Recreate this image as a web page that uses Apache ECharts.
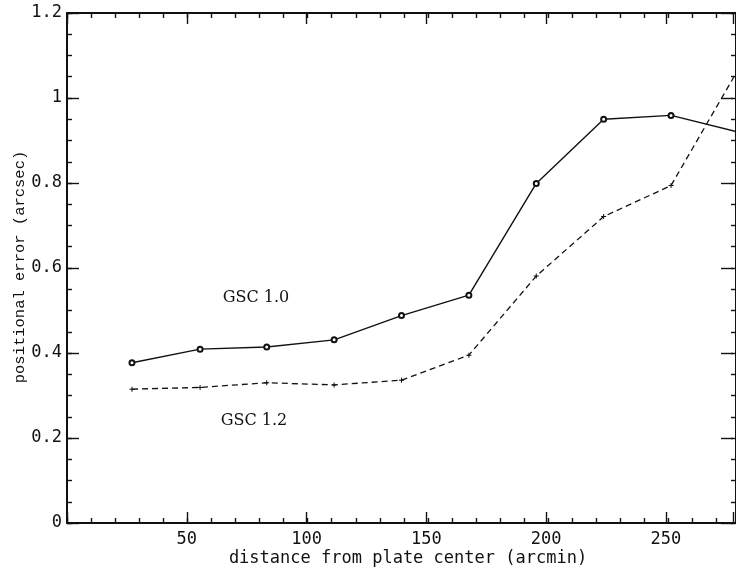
<html>
<head>
    <meta charset="utf-8">
    <title>GSC positional error</title>
    <script src="https://cdn.jsdelivr.net/npm/echarts@6.0.0/dist/echarts.min.js"></script>
</head>
<body style="margin:0;background:#fff;">
<div id="main" style="width: 736px;height:570px;"></div>
<script>
    // data
    var distance = [27, 55.3, 83, 111, 139, 167, 195, 223, 251, 279];
    var gsc10 = [0.377, 0.409, 0.414, 0.431, 0.488, 0.536, 0.799, 0.950, 0.959, 0.920];
    var gsc12 = [0.315, 0.319, 0.330, 0.325, 0.336, 0.395, 0.581, 0.721, 0.794, 1.068];
    var xTickLabels = [50, 100, 150, 200, 250];
    var yTickLabels = [0, 0.2, 0.4, 0.6, 0.8, 1, 1.2];

    var ink = '#111';
    var mono = 'DejaVu Sans Mono';

    function pairs(xs, ys) {
        var out = [];
        for (var i = 0; i < xs.length; i++) out.push([xs[i], ys[i]]);
        return out;
    }

    // minor ticks (short) on grid 0, major ticks (long) + labels on grid 1
    function xAx(grid, pos, interval, len, labels, line) {
        return {
            type: 'value', gridIndex: grid, position: pos, min: 0, max: 278, interval: interval,
            axisLine: {show: line, onZero: false, lineStyle: {color: ink, width: 2}},
            axisTick: {show: true, inside: true, length: len, lineStyle: {color: ink, width: 1.4}},
            axisLabel: {
                show: labels, margin: 8, color: ink, fontFamily: mono, fontSize: 17,
                formatter: function (v) { return xTickLabels.indexOf(v) >= 0 ? String(v) : ''; }
            },
            splitLine: {show: false}
        };
    }
    function yAx(grid, pos, interval, len, labels, line) {
        return {
            type: 'value', gridIndex: grid, position: pos, min: 0, max: 1.2, interval: interval,
            axisLine: {show: line, onZero: false, lineStyle: {color: ink, width: 2}},
            axisTick: {show: true, inside: true, length: len, lineStyle: {color: ink, width: 1.4}},
            axisLabel: {
                show: labels, margin: 5, color: ink, fontFamily: mono, fontSize: 17,
                formatter: function (v) {
                    var r = parseFloat(v.toFixed(2));
                    return yTickLabels.indexOf(r) >= 0 ? String(r) : '';
                }
            },
            splitLine: {show: false}
        };
    }

    var box = {left: 67, top: 13, width: 671, height: 510};

    var myChart = echarts.init(document.getElementById('main'));
    myChart.setOption({
        animation: false,
        backgroundColor: '#fff',
        grid: [box, box],
        xAxis: [
            xAx(0, 'bottom', 10, 5, false, true),
            xAx(0, 'top', 10, 5, false, true),
            xAx(1, 'bottom', 50, 11, true, false),
            xAx(1, 'top', 50, 11, false, false)
        ],
        yAxis: [
            yAx(0, 'left', 0.05, 5, false, true),
            yAx(0, 'right', 0.05, 5, false, true),
            yAx(1, 'left', 0.2, 12, true, false),
            yAx(1, 'right', 0.2, 12, false, false)
        ],
        series: [
            {
                name: 'GSC 1.0', type: 'line', xAxisIndex: 0, yAxisIndex: 0,
                data: pairs(distance, gsc10),
                symbol: 'emptyCircle', symbolSize: 5,
                itemStyle: {color: ink, borderColor: ink, borderWidth: 1.6},
                lineStyle: {color: ink, width: 1.4}
            },
            {
                name: 'GSC 1.2', type: 'line', xAxisIndex: 0, yAxisIndex: 0,
                data: pairs(distance, gsc12),
                symbol: 'path://M0,4L10,4L10,6L0,6Z M4,0L6,0L6,10L4,10Z', symbolSize: 5,
                itemStyle: {color: ink},
                lineStyle: {color: ink, width: 1.3, type: [6, 4]}
            }
        ],
        graphic: [
            {type: 'text', x: 256, y: 298, style: {text: 'GSC 1.0', font: '16px "DejaVu Serif"', fill: ink, align: 'center', verticalAlign: 'middle'}},
            {type: 'text', x: 254, y: 421, style: {text: 'GSC 1.2', font: '16px "DejaVu Serif"', fill: ink, align: 'center', verticalAlign: 'middle'}},
            {type: 'text', x: 408, y: 559, style: {text: 'distance from plate center (arcmin)', font: '17px "DejaVu Sans Mono"', fill: ink, align: 'center', verticalAlign: 'middle'}},
            {type: 'text', x: 19.5, y: 267, rotation: Math.PI / 2, style: {text: 'positional error (arcsec)', font: '15.5px "Liberation Mono"', fill: ink, align: 'center', verticalAlign: 'middle'}}
        ]
    });
</script>
</body>
</html>
